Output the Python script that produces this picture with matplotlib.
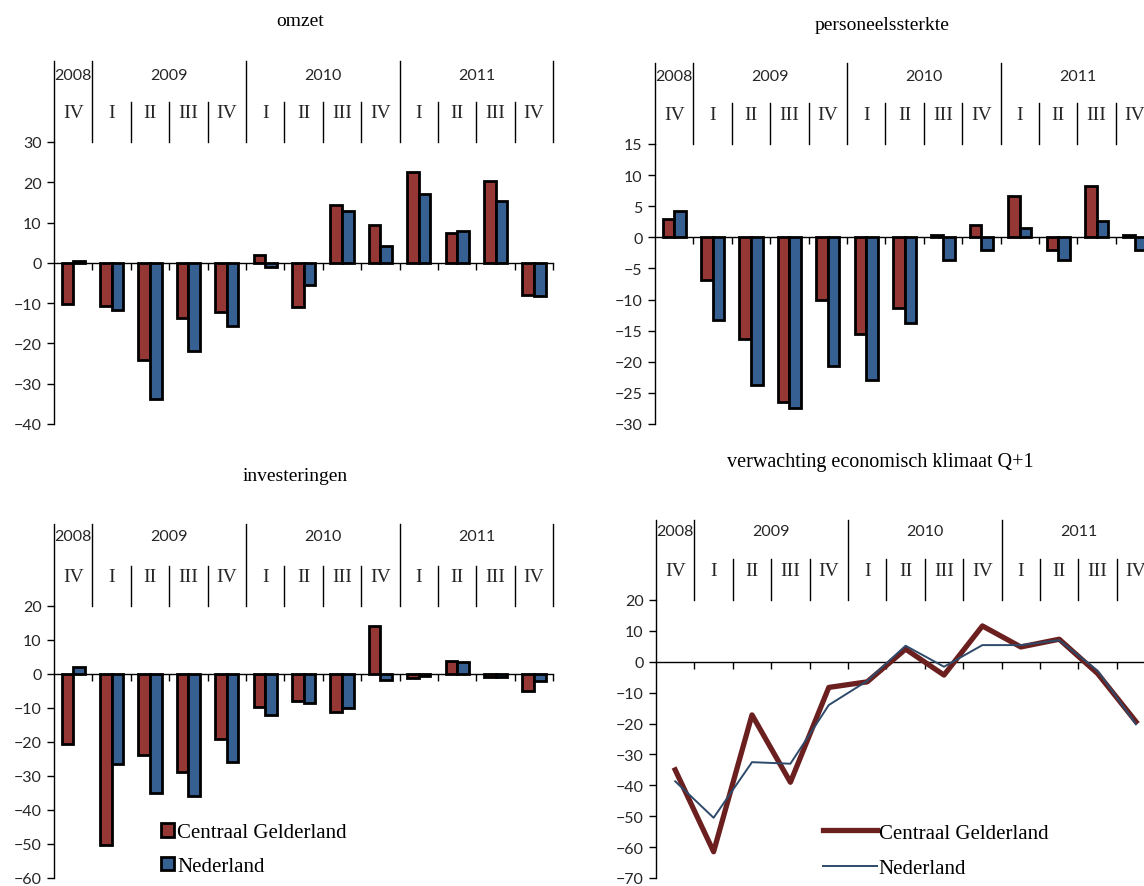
# import libraries
import numpy as np
import matplotlib.pyplot as plt

# quarters and years along the x axis
quarters = ['IV', 'I', 'II', 'III', 'IV', 'I', 'II', 'III', 'IV', 'I', 'II', 'III', 'IV']
years = ['2008', '2009', '2010', '2011']
year_first = [0, 1, 5, 9]   # first quarter index of each year
year_last = [0, 4, 8, 12]   # last quarter index of each year

# omzet (turnover)
omzet_cg = [-10.3, -10.6, -24.0, -13.6, -12.1, 2.0, -10.9, 14.3, 9.3, 22.5, 7.4, 20.2, -7.9]
omzet_nl = [0.5, -11.6, -33.9, -21.9, -15.7, -1.0, -5.6, 12.8, 4.1, 17.2, 8.0, 15.3, -8.3]
# personeelssterkte (staff)
pers_cg = [3.0, -6.8, -16.4, -26.4, -10.1, -15.5, -11.4, 0.3, 2.0, 6.7, -2.0, 8.3, 0.3]
pers_nl = [4.2, -13.3, -23.7, -27.5, -20.6, -23.0, -13.8, -3.6, -2.0, 1.5, -3.7, 2.6, -2.1]
# investeringen (investments)
inv_cg = [-20.5, -50.2, -23.9, -28.8, -19.0, -9.6, -7.8, -11.2, 14.0, -1.3, 3.7, -0.9, -4.9]
inv_nl = [2.2, -26.5, -35.1, -35.8, -25.9, -12.2, -8.5, -10.0, -1.8, -0.7, 3.4, -0.8, -2.2]
# verwachting economisch klimaat Q+1
klim_cg = [-35.0, -61.5, -17.2, -39.0, -8.3, -6.5, 4.1, -4.3, 11.6, 4.8, 7.3, -3.8, -19.4]
klim_nl = [-38.7, -50.5, -32.5, -33.0, -14.0, -6.2, 5.2, -1.6, 5.4, 5.4, 7.0, -2.9, -20.2]

labels = ['Centraal Gelderland', 'Nederland']

RED = '#953735'
BLUE = '#376092'
LRED = '#6b1f1f'
LBLUE = '#2e4a6b'
SANS = 'Lato'
SERIF = 'Liberation Serif'

W, H = 1144, 887
CW = 38.4  # pixel width of one quarter
fig = plt.figure(figsize=(W / 100, H / 100), dpi=100)


def make_panel(x0, y_top, y_bot, ylim, step, line_top, q_top, year_y, q_y):
    ax = fig.add_axes([x0 / W, 1 - y_bot / H, 13 * CW / W, (y_bot - y_top) / H])
    ax.set_xlim(-0.5, 12.5)
    ax.set_ylim(*ylim)
    ax.set_yticks(np.arange(ylim[0], ylim[1] + 1, step))
    for s in ['top', 'right']:
        ax.spines[s].set_visible(False)
    ax.spines['left'].set_linewidth(1)
    ax.spines['bottom'].set_position(('data', 0))
    ax.spines['bottom'].set_linewidth(1)
    ax.set_xticks(np.arange(0.5, 13, 1))
    ax.set_xticklabels([])
    ax.tick_params(axis='x', direction='out', length=5, width=1)
    ax.tick_params(axis='y', direction='out', length=5, width=1, labelsize=11.5,
                   labelcolor='#262626', pad=4)
    for t in ax.get_yticklabels():
        t.set_fontfamily(SANS)

    # header with years and quarters above the plot
    tr = ax.get_xaxis_transform()
    frac = lambda py: (y_bot - py) / (y_bot - y_top)
    for b in [-0.5, 0.5, 4.5, 8.5, 12.5]:
        ax.plot([b, b], [1, frac(line_top)], transform=tr, color='black', lw=1, clip_on=False)
    for b in [1.5, 2.5, 3.5, 5.5, 6.5, 7.5, 9.5, 10.5, 11.5]:
        ax.plot([b, b], [1, frac(q_top)], transform=tr, color='black', lw=1, clip_on=False)
    for name, a, b in zip(years, year_first, year_last):
        ax.text((a + b) / 2, frac(year_y), name, transform=tr, ha='center', va='center',
                fontsize=11.5, family=SANS, color='#262626')
    for i, q in enumerate(quarters):
        ax.text(i, frac(q_y), q, transform=tr, ha='center', va='center',
                fontsize=14, family=SERIF, color='#262626')
    return ax


def bars(ax, cg, nl):
    x = np.arange(len(quarters))
    ax.bar(x - 0.15, cg, 0.3, color=RED, edgecolor='black', linewidth=2, label=labels[0], zorder=3)
    ax.bar(x + 0.15, nl, 0.3, color=BLUE, edgecolor='black', linewidth=2, label=labels[1], zorder=3)


# omzet
ax1 = make_panel(54, 143, 425, (-40, 30), 10, 62, 103, 76, 114)
bars(ax1, omzet_cg, omzet_nl)
fig.text(300 / W, 1 - 22 / H, 'omzet', ha='center', va='center', fontsize=14, family=SERIF)

# personeelssterkte
ax2 = make_panel(655, 145, 425, (-30, 15), 5, 64, 104, 77, 115)
bars(ax2, pers_cg, pers_nl)
fig.text(882 / W, 1 - 25 / H, 'personeelssterkte', ha='center', va='center', fontsize=14, family=SERIF)

# investeringen
ax3 = make_panel(54, 607, 879, (-60, 20), 10, 525, 567, 537, 577)
bars(ax3, inv_cg, inv_nl)
fig.text(295 / W, 1 - 477 / H, 'investeringen', ha='center', va='center', fontsize=14, family=SERIF)
ax3.legend(loc='upper left', bbox_to_anchor=(161 / W, 1 - 824 / H), bbox_transform=fig.transFigure,
           frameon=False, prop={'family': SERIF, 'size': 15}, handlelength=0.62, handleheight=0.62,
           handletextpad=0.15, labelspacing=0.7, borderpad=0, borderaxespad=0)

# verwachting economisch klimaat Q+1
ax4 = make_panel(656, 601, 879, (-70, 20), 10, 521, 560, 532, 571)
x = np.arange(len(quarters))
ax4.plot(x, klim_cg, color=LRED, lw=3.8, label=labels[0], zorder=3)
ax4.plot(x, klim_nl, color=LBLUE, lw=1.4, label=labels[1], zorder=4)
fig.text(880 / W, 1 - 463 / H, 'verwachting economisch klimaat Q+1', ha='center', va='center',
         fontsize=14.5, family=SERIF)
ax4.legend(loc='upper left', bbox_to_anchor=(823 / W, 1 - 824 / H), bbox_transform=fig.transFigure,
           frameon=False, prop={'family': SERIF, 'size': 15}, handlelength=2.6,
           handletextpad=0.08, labelspacing=0.75, borderpad=0, borderaxespad=0)

plt.savefig('out.png', dpi=100)
